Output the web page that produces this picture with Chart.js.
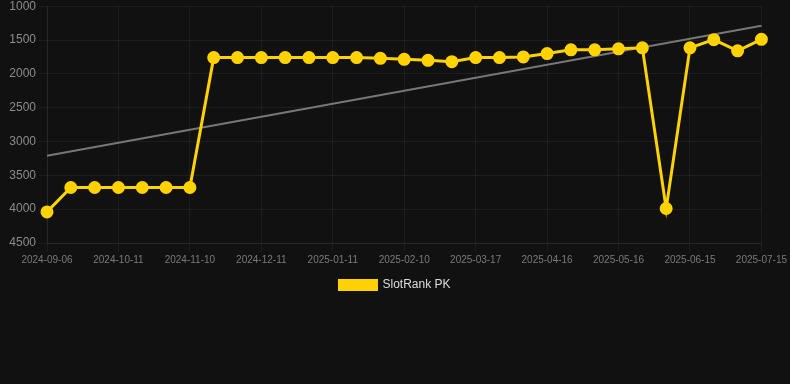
<!DOCTYPE html>
<html lang="en">
<head>
    <meta charset="UTF-8">
    <title>SlotRank PK</title>
    <script src="https://cdn.jsdelivr.net/npm/chart.js"></script>
    <style>
        body {
            margin: 0;
            padding: 0;
            background: #111111;
            font-family: Arial, "Liberation Sans", sans-serif;
            overflow: hidden;
        }

        .chart-container {
            width: 790px;
            height: 305px;
            margin-top: -4px;
        }
    </style>
</head>
<body>

    <div class="chart-container">
        <canvas id="rankChart"></canvas>
    </div>

    <script>
        // Dates on the x axis
        const dates = [
            '2024-09-06', '2024-09-18', '2024-09-30', '2024-10-11', '2024-10-21', '2024-10-31',
            '2024-11-10', '2024-11-20', '2024-12-01', '2024-12-11', '2024-12-21', '2025-01-01',
            '2025-01-11', '2025-01-21', '2025-01-31', '2025-02-10', '2025-02-22', '2025-03-05',
            '2025-03-17', '2025-03-27', '2025-04-06', '2025-04-16', '2025-04-26', '2025-05-06',
            '2025-05-16', '2025-05-26', '2025-06-05', '2025-06-15', '2025-06-25', '2025-07-05',
            '2025-07-15'
        ];

        // Rank values (lower is better, axis is reversed)
        const rankValues = [
            4040, 3680, 3680, 3680, 3680, 3680,
            3680, 1760, 1760, 1760, 1760, 1760,
            1760, 1760, 1770, 1785, 1800, 1820,
            1760, 1760, 1750, 1700, 1645, 1645,
            1630, 1615, 3990, 1615, 1495, 1660,
            1490
        ];

        // Trend line end points
        const trendDates = ['2024-09-06', '2025-07-15'];
        const trendValues = [3210, 1290];

        const yTicks = { min: 1000, max: 4500, step: 500 };

        Chart.defaults.font.family = 'Arial, "Liberation Sans", sans-serif';

        const ctx = document.getElementById('rankChart').getContext('2d');
        new Chart(ctx, {
            type: 'line',
            data: {
                labels: dates,
                datasets: [{
                    label: 'SlotRank PK',
                    data: rankValues,
                    borderColor: '#ffd200',
                    backgroundColor: '#ffd200',
                    borderWidth: 3,
                    pointRadius: 5,
                    pointHoverRadius: 6,
                    pointBackgroundColor: '#ffd200',
                    pointBorderColor: '#ffd200',
                    tension: 0
                }, {
                    label: 'trend',
                    data: trendDates.map((d, i) => ({ x: d, y: trendValues[i] })),
                    borderColor: '#777777',
                    borderWidth: 2,
                    pointRadius: 0,
                    fill: false
                }]
            },
            options: {
                responsive: true,
                maintainAspectRatio: false,
                animation: false,
                scales: {
                    x: {
                        grid: {
                            color: 'rgba(255,255,255,0.05)'
                        },
                        border: {
                            color: 'rgba(255,255,255,0.05)'
                        },
                        ticks: {
                            color: '#7a7a7a',
                            font: { size: 10 },
                            maxRotation: 0,
                            maxTicksLimit: 11
                        }
                    },
                    y: {
                        reverse: true,
                        min: yTicks.min,
                        max: yTicks.max,
                        // keep the axis box as wide as in the original
                        afterFit: scale => { scale.width = 47; },
                        grid: {
                            color: 'rgba(255,255,255,0.05)'
                        },
                        border: {
                            color: 'rgba(255,255,255,0.05)'
                        },
                        ticks: {
                            stepSize: yTicks.step,
                            color: '#8c8c8c',
                            font: { size: 12 },
                            callback: value => String(value)
                        }
                    }
                },
                plugins: {
                    legend: {
                        position: 'bottom',
                        labels: {
                            color: '#dddddd',
                            boxWidth: 37,
                            boxHeight: 9,
                            font: { size: 12 },
                            filter: item => item.text !== 'trend'
                        }
                    },
                    tooltip: { enabled: false }
                }
            }
        });
    </script>

</body>
</html>
